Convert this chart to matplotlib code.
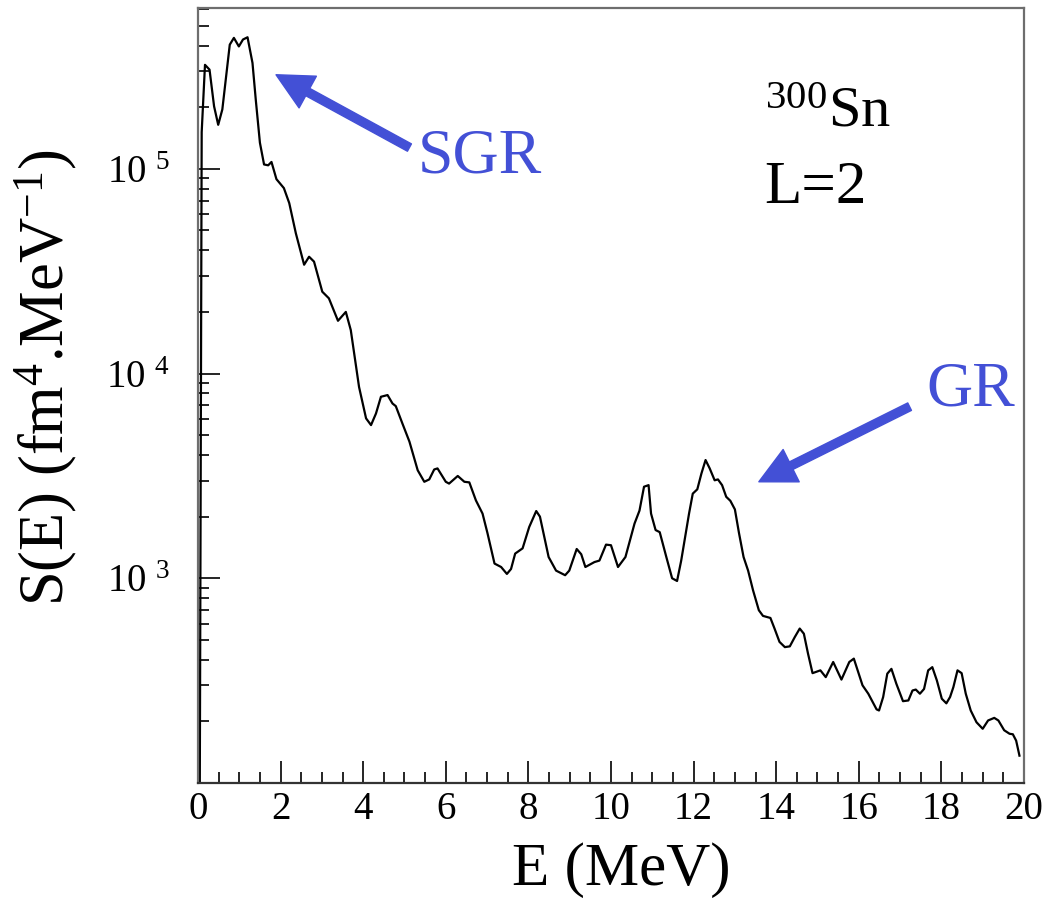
import numpy as np
import matplotlib
matplotlib.use('Agg')
import matplotlib.pyplot as plt
from matplotlib.ticker import LogLocator, FixedLocator, FixedFormatter, MultipleLocator, NullFormatter

plt.rcParams['font.family'] = ['Liberation Serif', 'DejaVu Serif']
plt.rcParams['mathtext.fontset'] = 'custom'
plt.rcParams['mathtext.rm'] = 'Liberation Serif'
plt.rcParams['mathtext.it'] = 'Liberation Serif:italic'

BLUE = '#4350d6'

# strength function S(E) for 300Sn, L=2
energy = [0.03, 0.09, 0.17, 0.28, 0.39, 0.49, 0.59, 0.77, 0.87, 0.99, 1.09, 1.20, 1.32, 1.40,
          1.50, 1.60, 1.70, 1.78, 1.90, 2.08, 2.21, 2.37, 2.57, 2.69, 2.81, 3.01, 3.17, 3.39,
          3.58, 3.70, 3.90, 4.07, 4.19, 4.31, 4.43, 4.59, 4.71, 4.79, 4.95, 5.12, 5.32, 5.48,
          5.60, 5.72, 5.80, 6.00, 6.08, 6.29, 6.45, 6.57, 6.73, 6.89, 7.01, 7.18, 7.34, 7.48,
          7.58, 7.68, 7.86, 8.02, 8.19, 8.28, 8.49, 8.67, 8.89, 8.99, 9.17, 9.28, 9.38, 9.60,
          9.72, 9.88, 10.00, 10.17, 10.35, 10.57, 10.69, 10.80, 10.91, 10.97, 11.08, 11.18,
          11.34, 11.48, 11.60, 11.70, 11.89, 11.98, 12.09, 12.19, 12.29, 12.39, 12.51, 12.59,
          12.69, 12.79, 12.89, 13.00, 13.10, 13.21, 13.32, 13.44, 13.58, 13.68, 13.86, 13.96,
          14.08, 14.21, 14.33, 14.45, 14.57, 14.67, 14.77, 14.88, 15.07, 15.20, 15.38, 15.58,
          15.77, 15.88, 16.09, 16.23, 16.43, 16.49, 16.59, 16.69, 16.79, 16.91, 17.07, 17.20,
          17.30, 17.38, 17.48, 17.58, 17.68, 17.78, 17.89, 18.01, 18.12, 18.21, 18.29, 18.39,
          18.49, 18.59, 18.71, 18.85, 19.00, 19.13, 19.28, 19.38, 19.52, 19.65, 19.73, 19.81,
          19.89]
strength = [10, 1.51e5, 3.22e5, 3.05e5, 2.02e5, 1.64e5, 1.95e5, 4.04e5, 4.36e5, 3.96e5, 4.28e5,
            4.39e5, 3.29e5, 2.17e5, 1.34e5, 1.05e5, 1.04e5, 1.08e5, 8.9e4, 8.05e4, 6.8e4,
            4.84e4, 3.4e4, 3.72e4, 3.52e4, 2.51e4, 2.33e4, 1.81e4, 2.0e4, 1.63e4, 8.6e3,
            6.04e3, 5.6e3, 6.38e3, 7.7e3, 7.85e3, 7.14e3, 6.93e3, 5.7e3, 4.65e3, 3.37e3,
            2.96e3, 3.04e3, 3.4e3, 3.44e3, 2.96e3, 2.9e3, 3.16e3, 2.96e3, 2.94e3, 2.4e3,
            2.07e3, 1.66e3, 1.18e3, 1.135e3, 1.05e3, 1.11e3, 1.32e3, 1.4e3, 1.78e3, 2.13e3,
            2.0e3, 1.27e3, 1.09e3, 1.035e3, 1.09e3, 1.39e3, 1.31e3, 1.135e3, 1.2e3, 1.22e3,
            1.46e3, 1.45e3, 1.135e3, 1.27e3, 1.85e3, 2.14e3, 2.8e3, 2.85e3, 2.07e3, 1.72e3,
            1.68e3, 1.27e3, 1.0e3, 970, 1.22e3, 2.07e3, 2.59e3, 2.72e3, 3.25e3, 3.78e3,
            3.44e3, 3.01e3, 3.04e3, 2.85e3, 2.5e3, 2.39e3, 2.17e3, 1.66e3, 1.27e3, 1.09e3,
            873, 698, 655, 640, 568, 489, 461, 465, 516, 568, 536, 429, 344, 355, 329, 390,
            320, 390, 405, 300, 273, 229, 226, 263, 342, 361, 305, 251, 253, 283, 286, 273,
            288, 355, 368, 317, 258, 245, 263, 294, 355, 344, 273, 226, 198, 184, 202, 208,
            202, 181, 174, 173, 161, 136]

ytick_vals = [1e3, 1e4, 1e5]
ytick_labels = ['10 $^{3}$', '10 $^{4}$', '10 $^{5}$']

fig = plt.figure(figsize=(10.48, 9.11), dpi=100)
ax = fig.add_axes([0.1889, 0.1405, 0.7882, 0.8507])

ax.plot(energy, strength, color='black', lw=1.6)

ax.set_yscale('log')
ax.set_xlim(0, 20)
ax.set_ylim(100, 6.1e5)

ax.xaxis.set_major_locator(MultipleLocator(2))
ax.xaxis.set_minor_locator(MultipleLocator(0.5))
ax.yaxis.set_major_locator(FixedLocator(ytick_vals))
ax.yaxis.set_major_formatter(FixedFormatter(ytick_labels))
ax.yaxis.set_minor_locator(LogLocator(base=10, subs=np.arange(2, 10)))
ax.yaxis.set_minor_formatter(NullFormatter())

ax.tick_params(which='both', direction='in', top=False, right=False, color='black', width=1.2)
ax.tick_params(which='major', length=16)
ax.tick_params(which='minor', length=8)
ax.tick_params(axis='x', labelsize=28, pad=6)
ax.tick_params(axis='y', labelsize=28, pad=20)

for side in ['top', 'right', 'bottom', 'left']:
    ax.spines[side].set_color('#6e6e6e')
    ax.spines[side].set_linewidth(1.6)
ax.spines['bottom'].set_color('#333333')

ax.set_xlabel('E (MeV)', fontsize=44)
ax.xaxis.set_label_coords(0.512, -0.077)
ax.set_ylabel('S(E) (fm$^{4}$.MeV$^{\\mathrm{-1}}$)', fontsize=45)
ax.yaxis.set_label_coords(-0.1435, 0.5226)

# labels in the upper right corner
ax.text(0.686, 0.847, '$^{300}$Sn', transform=ax.transAxes, fontsize=42, va='baseline')
ax.text(0.686, 0.748, 'L=2', transform=ax.transAxes, fontsize=44, va='baseline')

# arrows pointing at the resonances
arrow = dict(width=6, headwidth=26, headlength=26, color=BLUE, shrink=0)
ax.annotate('', xy=(1.89, 2.88e5), xytext=(5.12, 1.27e5), arrowprops=arrow)
ax.text(5.31, 9.55e4, 'SGR', color=BLUE, fontsize=46, va='baseline')
ax.annotate('', xy=(13.58, 2.96e3), xytext=(17.23, 6.89e3), arrowprops=arrow)
ax.text(17.63, 7.0e3, 'GR', color=BLUE, fontsize=46, va='baseline')

fig.savefig('out.png', dpi=100)
